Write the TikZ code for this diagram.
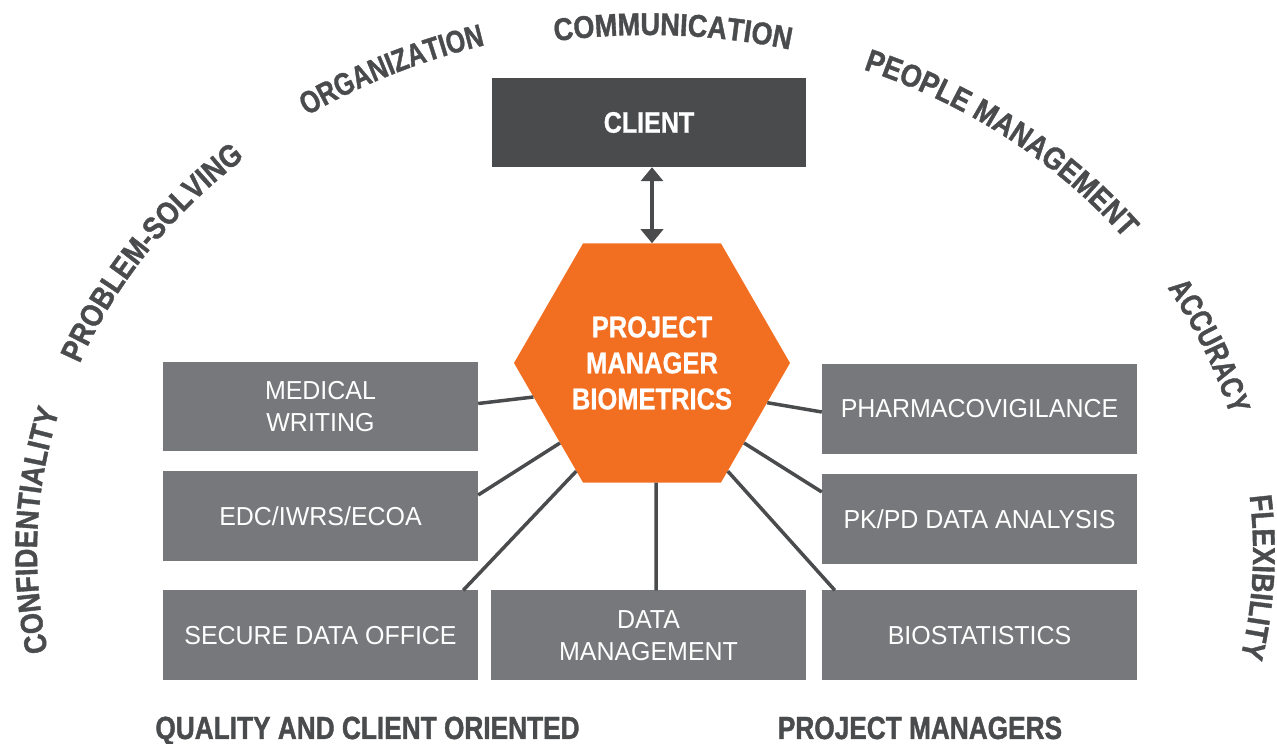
\documentclass[tikz,border=0pt]{standalone}
\usepackage{fontspec}
\usetikzlibrary{shapes.geometric,arrows.meta,decorations.text}
\setmainfont{Liberation Sans}
\newfontfamily\arcfam[FakeStretch=0.86,BoldFeatures={FakeBold=1.2}]{Liberation Sans}
\newfontfamily\arcfamN[FakeStretch=0.79,BoldFeatures={FakeBold=1.2}]{Liberation Sans}
\newfontfamily\botfam[FakeStretch=0.82,BoldFeatures={FakeBold=1.2}]{Liberation Sans}
\newfontfamily\hexfam[FakeStretch=0.85,BoldFeatures={FakeBold=0.8}]{Liberation Sans}
\newfontfamily\boxfam[FakeStretch=0.96]{Liberation Sans}
\newcommand\arcfont{\arcfam\bfseries\fontsize{31.5}{34}\selectfont}
\newcommand\arcfontN{\arcfamN\bfseries\fontsize{31.5}{34}\selectfont}
\newcommand\botfont{\botfam\bfseries\fontsize{32}{36}\selectfont}
\newcommand\hexfont{\hexfam\bfseries\fontsize{30}{36}\selectfont}
\newcommand\clifont{\hexfam\bfseries\fontsize{29.5}{32}\selectfont}
\newcommand\boxfont{\boxfam\fontsize{26}{31.5}\selectfont}
\definecolor{dk}{HTML}{4A4B4D}
\definecolor{bx}{HTML}{77787B}
\definecolor{org}{HTML}{F26F21}
\begin{document}
\begin{tikzpicture}[x=1pt,y=1pt,
  box/.style={fill=bx, minimum width=315pt, minimum height=90pt, inner sep=0pt, text=white, align=center, font=\boxfont},
  conn/.style={draw=dk, line width=3.5pt},
  twoway/.style={draw=dk, line width=3.5pt, {Triangle[width=22pt,length=14pt]}-{Triangle[width=22pt,length=14pt]}},
  arcword/.style 2 args={decorate, decoration={text along path, text align=center, text color=dk, text={|#1|#2}}},
  label/.style={font=\botfont, text=dk, anchor=base, inner sep=0pt}
]
\useasboundingbox (0,0) rectangle (1277,744);
\coordinate (E) at (648,192);

% client and hub
\node[fill=dk, minimum width=314pt, minimum height=89pt, inner sep=0pt, text=white, font=\clifont] (client) at (649,621.5) {CLIENT};
\node[regular polygon, regular polygon sides=6, minimum size=276pt, inner sep=0pt, fill=org, text=white, align=center, font=\hexfont] (hex) at (652,381) {PROJECT\\MANAGER\\BIOMETRICS};

% boxes
\node[box, minimum height=89pt] (mw) at (320.5,337.5) {MEDICAL\\WRITING};
\node[box] (edc) at (320.5,227.5) {EDC/IWRS/ECOA};
\node[box] (sdo) at (320.5,108.5) {SECURE DATA OFFICE};
\node[box] (dm) at (648.5,108.5) {DATA\\MANAGEMENT};
\node[box] (pv) at (979.5,335) {PHARMACOVIGILANCE};
\node[box] (pk) at (979.5,225) {PK/PD DATA ANALYSIS};
\node[box] (bio) at (979.5,108.5) {BIOSTATISTICS};

% connectors
\draw[twoway] (hex.north |- client.south) -- (hex.north);
\draw[conn] ([yshift=3pt]mw.east) -- (hex.196);
\draw[conn] ([yshift=21.5pt]edc.east) -- (hex.221);
\draw[conn] ([xshift=-15pt]sdo.north east) -- (hex.235);
\draw[conn] ([xshift=7.5pt]dm.north) -- (hex.272);
\draw[conn] ([xshift=13pt]bio.north west) -- (hex.305);
\draw[conn] ([yshift=27pt]pk.west) -- (hex.319);
\draw[conn] ([yshift=-3pt]pv.west) -- (hex.341);

% bottom labels
\node[label] (qco) at (367.5,5) {QUALITY AND CLIENT ORIENTED};
\node[label] (pms) at (920,5) {PROJECT MANAGERS};

% words along the arc
\path[arcword={\arcfont}{CONFIDENTIALITY}] ([shift={(197.7:611 and 526.6)}]E) arc[start angle=197.7, end angle=157.7, x radius=611, y radius=526.6];
\path[arcword={\arcfont}{PROBLEM-SOLVING}] ([shift={(165.5:608.8 and 525.7)}]E) arc[start angle=165.5, end angle=125.5, x radius=608.8, y radius=525.7];
\path[arcword={\arcfontN}{ORGANIZATION}] ([shift={(135:610.2 and 525.9)}]E) arc[start angle=135, end angle=95, x radius=610.2, y radius=525.9];
\path[arcword={\arcfont}{COMMUNICATION}] ([shift={(107.6:601 and 517)}]E) arc[start angle=107.6, end angle=67.6, x radius=601, y radius=517];
\path[arcword={\arcfont}{PEOPLE MANAGEMENT}] ([shift={(75.8:598.8 and 517.2)}]E) arc[start angle=75.8, end angle=29.8, x radius=598.8, y radius=517.2];
\path[arcword={\arcfontN}{ACCURACY}] ([shift={(42.6:603.4 and 519.7)}]E) arc[start angle=42.6, end angle=2.6, x radius=603.4, y radius=519.7];
\path[arcword={\arcfont}{FLEXIBILITY}] ([shift={(17.3:605.1 and 521.4)}]E) arc[start angle=17.3, end angle=-22.7, x radius=605.1, y radius=521.4];
\end{tikzpicture}
\end{document}
